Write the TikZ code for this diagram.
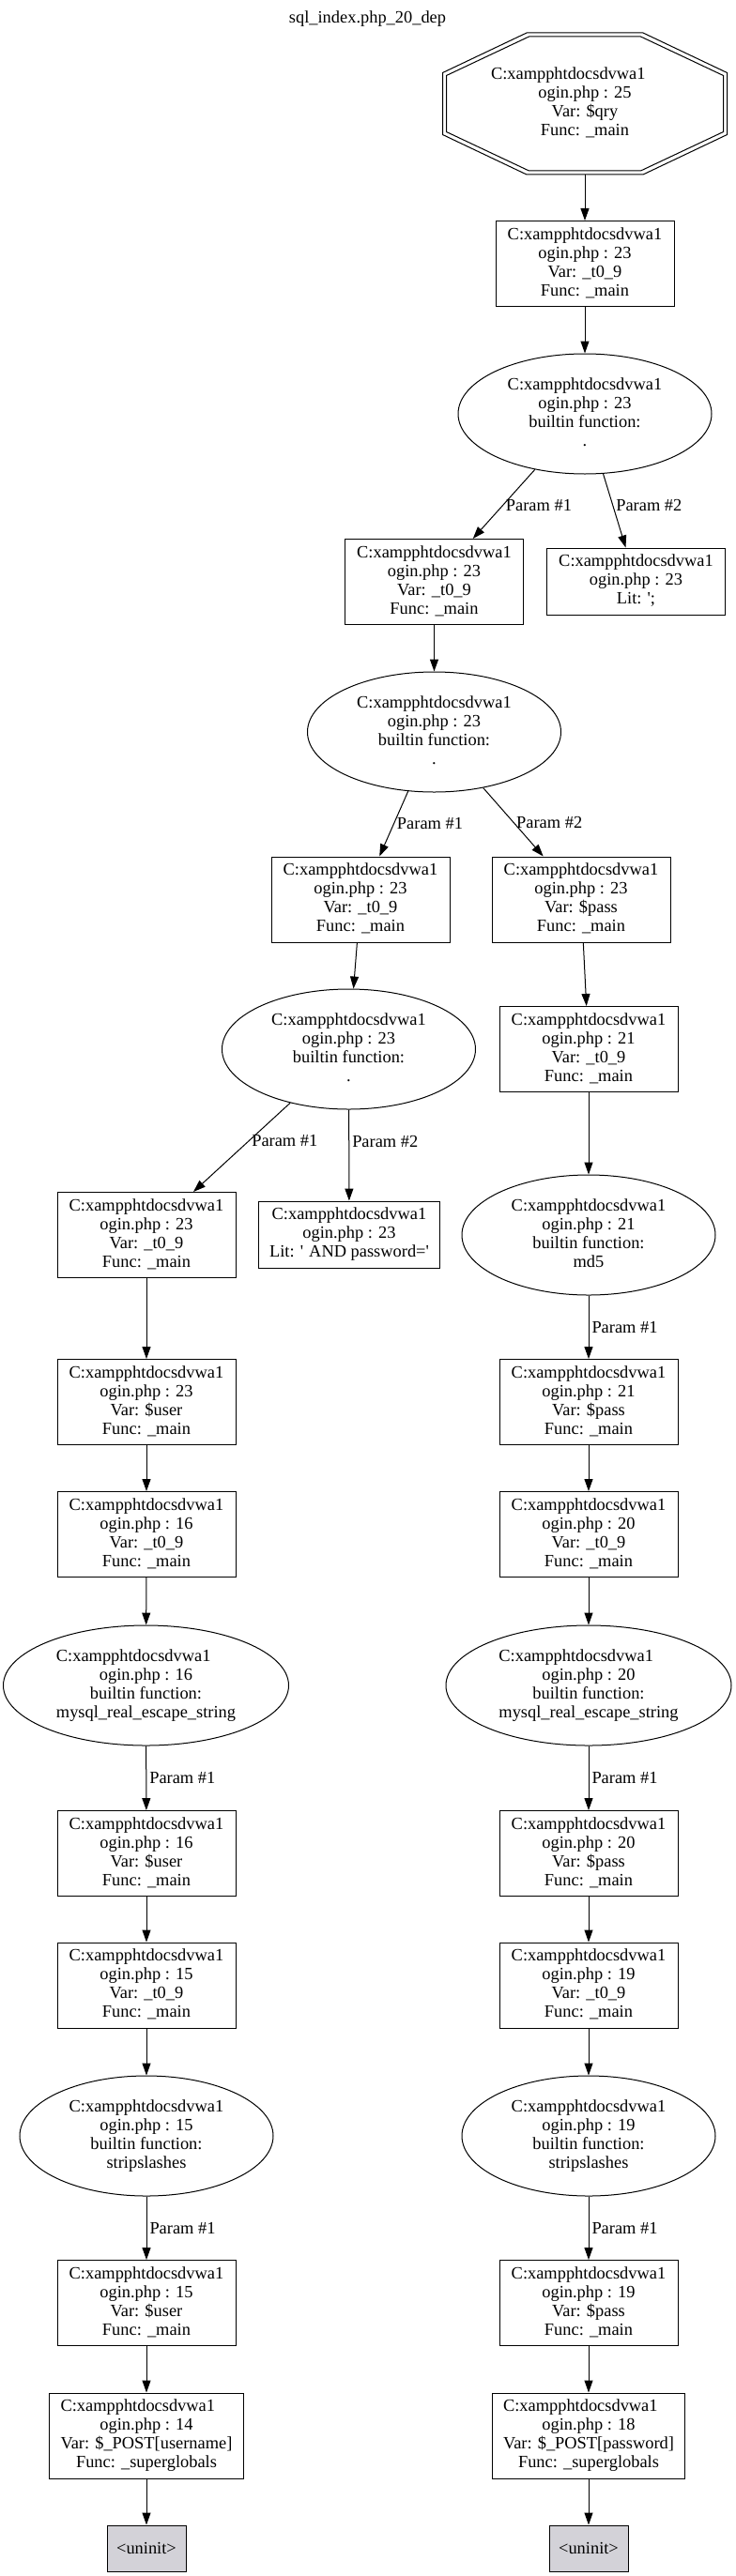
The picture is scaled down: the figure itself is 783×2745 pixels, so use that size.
\documentclass[tikz,border=0pt]{standalone}
\usepackage{fontspec}
\setmainfont{Liberation Serif}[Ligatures=TeXOff]
\usetikzlibrary{shapes.geometric,arrows.meta}
\definecolor{uninitgray}{RGB}{211,210,216}
\newcommand\nlab[1]{\begin{tabular}{@{}c@{}}#1\end{tabular}}
\newcommand\nleft[1]{\multicolumn{1}{@{}l@{}}{#1}}
\newcommand\pth{C:xampphtdocsdvwa1}
\tikzset{
  gfont/.style={font=\fontsize{9.2}{10}\selectfont},
  gbox/.style={gfont, draw, rectangle, line width=0.5pt, inner xsep=6pt, inner ysep=0pt, minimum width=95pt, minimum height=45.5pt},
  gbox3/.style={gbox, minimum height=35.5pt},
  gell/.style={gfont, draw, ellipse, line width=0.5pt, inner sep=0pt, minimum width=135pt, minimum height=64pt},
  gellw/.style={gell, minimum width=152pt},
  goct/.style={gfont, rectangle, inner sep=0pt, minimum width=151.5pt, minimum height=75.5pt},
  guninit/.style={gfont, draw, fill=uninitgray, line width=0.5pt, minimum width=42pt, minimum height=24.5pt, inner sep=0pt},
  garrow/.style={draw, line width=0.5pt, -{Triangle[length=6.5pt,width=4.5pt]}},
  glab/.style={gfont, anchor=west, inner sep=1.5pt}
}
\begin{document}
\begin{tikzpicture}[x=0.5pt,y=-0.5pt]
\useasboundingbox (0,0) rectangle (783,2745);
\node[gfont] (title) at (391.5,20) {sql\_index.php\_20\_dep};

% top chain
\node[goct] (n1) at (623,110.5) {\nlab{\makebox[100pt][l]{\pth}\\ ogin.php : 25\\ Var: \$qry\\ Func: \_main}};
\begin{scope}[shift={(n1.center)}]
  \draw[line width=0.5pt] (-62,-75.5) -- (62,-75.5) -- (151.5,-33) -- (151.5,33) -- (62,75.5) -- (-62,75.5) -- (-151.5,33) -- (-151.5,-33) -- cycle;
  \draw[line width=0.5pt] (-59.5,-71.5) -- (59.5,-71.5) -- (147.5,-30) -- (147.5,30) -- (59.5,71.5) -- (-59.5,71.5) -- (-147.5,30) -- (-147.5,-30) -- cycle;
\end{scope}
\node[gbox] (n2) at (623,281) {\nlab{\pth\\ ogin.php : 23\\ Var: \_t0\_9\\ Func: \_main}};
\node[gell] (n3) at (623,441) {\nlab{\pth\\ ogin.php : 23\\ builtin function:\\ .}};
\node[gbox] (n4) at (462.5,620) {\nlab{\pth\\ ogin.php : 23\\ Var: \_t0\_9\\ Func: \_main}};
\node[gbox3] (n5) at (677.5,619.5) {\nlab{\pth\\ ogin.php : 23\\ Lit: ';}};
\node[gell] (n6) at (462.5,780) {\nlab{\pth\\ ogin.php : 23\\ builtin function:\\ .}};
\node[gbox] (n7) at (384,958.5) {\nlab{\pth\\ ogin.php : 23\\ Var: \_t0\_9\\ Func: \_main}};
\node[gbox] (n8) at (619,958.5) {\nlab{\pth\\ ogin.php : 23\\ Var: \$pass\\ Func: \_main}};
\node[gell] (n9) at (371.5,1118) {\nlab{\pth\\ ogin.php : 23\\ builtin function:\\ .}};
\node[gbox] (n10) at (627,1118) {\nlab{\pth\\ ogin.php : 21\\ Var: \_t0\_9\\ Func: \_main}};
\node[gbox] (n11) at (156,1316) {\nlab{\pth\\ ogin.php : 23\\ Var: \_t0\_9\\ Func: \_main}};
\node[gbox3] (n12) at (372,1315.5) {\nlab{\pth\\ ogin.php : 23\\ Lit: ' AND password='}};
\node[gell] (n13) at (627,1316) {\nlab{\pth\\ ogin.php : 21\\ builtin function:\\ md5}};

% left column
\node[gbox] (n14) at (156,1494) {\nlab{\pth\\ ogin.php : 23\\ Var: \$user\\ Func: \_main}};
\node[gbox] (n16) at (156,1635) {\nlab{\pth\\ ogin.php : 16\\ Var: \_t0\_9\\ Func: \_main}};
\node[gellw] (n18) at (155.5,1796) {\nlab{\nleft{\pth}\\ ogin.php : 16\\ builtin function:\\ mysql\_real\_escape\_string}};
\node[gbox] (n20) at (156,1975) {\nlab{\pth\\ ogin.php : 16\\ Var: \$user\\ Func: \_main}};
\node[gbox] (n22) at (156,2115.5) {\nlab{\pth\\ ogin.php : 15\\ Var: \_t0\_9\\ Func: \_main}};
\node[gell] (n24) at (156,2276) {\nlab{\pth\\ ogin.php : 15\\ builtin function:\\ stripslashes}};
\node[gbox] (n26) at (156,2454) {\nlab{\pth\\ ogin.php : 15\\ Var: \$user\\ Func: \_main}};
\node[gbox] (n28) at (156,2595.5) {\nlab{\nleft{\pth}\\ ogin.php : 14\\ Var: \$\_POST[username]\\ Func: \_superglobals}};
\node[guninit] (n30) at (156,2715.5) {<uninit>};

% right column
\node[gbox] (n15) at (627,1494) {\nlab{\pth\\ ogin.php : 21\\ Var: \$pass\\ Func: \_main}};
\node[gbox] (n17) at (627,1635) {\nlab{\pth\\ ogin.php : 20\\ Var: \_t0\_9\\ Func: \_main}};
\node[gellw] (n19) at (627,1796) {\nlab{\nleft{\pth}\\ ogin.php : 20\\ builtin function:\\ mysql\_real\_escape\_string}};
\node[gbox] (n21) at (627,1975) {\nlab{\pth\\ ogin.php : 20\\ Var: \$pass\\ Func: \_main}};
\node[gbox] (n23) at (627,2115.5) {\nlab{\pth\\ ogin.php : 19\\ Var: \_t0\_9\\ Func: \_main}};
\node[gell] (n25) at (627,2276) {\nlab{\pth\\ ogin.php : 19\\ builtin function:\\ stripslashes}};
\node[gbox] (n27) at (627,2454) {\nlab{\pth\\ ogin.php : 19\\ Var: \$pass\\ Func: \_main}};
\node[gbox] (n29) at (627,2595.5) {\nlab{\nleft{\pth}\\ ogin.php : 18\\ Var: \$\_POST[password]\\ Func: \_superglobals}};
\node[guninit] (n31) at (627,2715.5) {<uninit>};

% edges
\draw[garrow] (n1) -- (n2);
\draw[garrow] (n2) -- (n3);
\draw[garrow] (n3) -- node[glab, pos=0.52]{Param \#1} (n4);
\draw[garrow] (n3) -- node[glab, pos=0.43]{Param \#2} (n5);
\draw[garrow] (n4) -- (n6);
\draw[garrow] (n6) -- node[glab]{Param \#1} (n7);
\draw[garrow] (n6) -- node[glab]{Param \#2} (n8);
\draw[garrow] (n7) -- (n9);
\draw[garrow] (n8) -- (n10);
\draw[garrow] (n9) -- node[glab, pos=0.43]{Param \#1} (n11);
\draw[garrow] (n9) -- node[glab, pos=0.35]{Param \#2} (n12);
\draw[garrow] (n10) -- (n13);
\draw[garrow] (n11) -- (n14);
\draw[garrow] (n13) -- node[glab]{Param \#1} (n15);
\draw[garrow] (n14) -- (n16);
\draw[garrow] (n15) -- (n17);
\draw[garrow] (n16) -- (n18);
\draw[garrow] (n17) -- (n19);
\draw[garrow] (n18) -- node[glab]{Param \#1} (n20);
\draw[garrow] (n19) -- node[glab]{Param \#1} (n21);
\draw[garrow] (n20) -- (n22);
\draw[garrow] (n21) -- (n23);
\draw[garrow] (n22) -- (n24);
\draw[garrow] (n23) -- (n25);
\draw[garrow] (n24) -- node[glab]{Param \#1} (n26);
\draw[garrow] (n25) -- node[glab]{Param \#1} (n27);
\draw[garrow] (n26) -- (n28);
\draw[garrow] (n27) -- (n29);
\draw[garrow] (n28) -- (n30);
\draw[garrow] (n29) -- (n31);
\end{tikzpicture}
\end{document}
